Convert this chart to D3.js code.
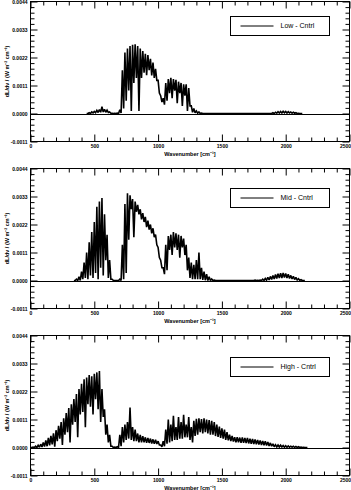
<!DOCTYPE html>
<html><head><meta charset="utf-8">
<script src="https://cdn.jsdelivr.net/npm/d3@7"></script>
<style>body{margin:0;background:#fff}svg{display:block}text{font-family:"Liberation Sans",Arial,sans-serif;fill:#000}</style>
</head><body>
<script>
// values in units of 1e-4 W m^-2 cm^-1
const yTickValues = [-11, 0, 11, 22, 33, 44];
const yTickLabels = ["-0.0011", "0.0000", "0.0011", "0.0022", "0.0033", "0.0044"];
const xTickValues = [0, 500, 1000, 1500, 2000, 2500];
const xTickLabels = ["0", "500", "1000", "1500", "2000", "2500"];
const legendLabels = ["Low - Cntrl", "Mid - Cntrl", "High - Cntrl"];
const xTitle = "Wavenumber [cm\u207B\u00B9]";
const yTitle = "dL/d\u03BD / (W m\u207B\u00B2 cm\u207B\u00B9)";

// Low - Cntrl : upper / lower envelope of the spiky spectrum
const lowWn = d3.range(440, 2121, 20);
const lowHi = [
  0,0.3,0.6,0.8,1.2,1.5,2.7,1.6,1.3,0.6,
  0.1,0.1,0.2,1.5,17,24,25.5,26.5,27,27.2,
  26.5,25.5,24.5,23.5,23,21.5,20,17.5,13,7,
  6,12,13.5,14,13.5,13.2,12.5,12,11.5,11.5,
  10,3,2,1,0.6,0.2,0,0,0,0,
  0,0,0,0,0,0,0,0,0,0,
  0,0,0,0,0,0,0,0,0,0,
  0,0,0,0.3,0.5,0.7,0.8,0.9,0.8,0.7,
  0.6,0.5,0.3,0.1,0];
const lowLo = [
  0,0,0.2,0.3,0.4,0.5,0.6,0.5,0.4,0.1,
  0,0,0,0.2,2,5,9,1,12,14,
  1,14,16,15,17,15,14,13,8,4.5,
  3.5,5,8,6,9,4,8,3,7,1,
  3,0.5,0.3,0.1,0,0,0,0,0,0,
  0,0,0,0,0,0,0,0,0,0,
  0,0,0,0,0,0,0,0,0,0,
  0,0,0,0,0.1,0.2,0.2,0.3,0.2,0.2,
  0.1,0.1,0,0,0];

// Mid - Cntrl
const midWn = d3.range(340, 2141, 20);
const midHi = [
  0,0.5,1.5,3.5,7,11,15,19,23,29,
  31,32.4,26,18,8,0.5,0,0,0.5,14,
  30,34.3,33.5,32,31,29.7,28,26.5,25,23.5,
  22,20.5,18,13,8,5,14,17.5,18,19,
  18.5,18,17.5,16.5,14,9,7,6.2,8,11,
  5,3.5,2.5,1.5,0.6,0.2,0,0,0,0,
  0,0,0,0,0,0,0,0,0,0,
  0,0.2,0.1,0.2,0.5,0.8,1.2,1.6,2.0,2.4,
  2.7,2.9,3.0,2.8,2.5,2.0,1.6,1.2,0.7,0.3,
  0];
const midLo = [
  0,0,0,0.5,1,0.5,2,1,3,0.5,
  5,2,8,1,0.5,0,0,0,0,0.5,
  3,16,28,17,27,26,24,23,21,20,
  18.5,17,14,9,5,2.5,4,12,10,13,
  12,9,13,10,4,1,0.5,0.5,0.5,0.5,
  0.2,0.1,0,0,0,0,0,0,0,0,
  0,0,0,0,0,0,0,0,0,0,
  0,0,0,0,0,0.1,0.2,0.4,0.6,0.8,
  1.0,1.0,1.2,1.0,0.8,0.6,0.4,0.2,0.1,0,
  0];

// High - Cntrl
const highWn = d3.range(0, 2161, 20);
const highHi = [
  0,0.2,0.5,0.9,1.3,2,2.8,3.8,4.6,5.6,
  6.8,8.5,10,11.5,13.5,15.5,17,19,21,23,
  25,26.8,27.5,28.5,28,29,29.5,30,23,15,
  9,5,0.5,0.2,0.3,5,8,9,10,15.7,
  8,7,5.5,5,4.5,4,3.8,3.5,3.2,3,
  2.5,1,2.5,7,11,9,12.5,8,12,10,
  12.8,9,12,8,10.5,11.3,11.5,11.2,11.5,11,
  10.8,10.5,10,9,8.2,7.5,7,6,5,4.5,
  4,4,3.9,4,3.8,3.8,3.5,3.4,3.2,3,
  2.8,2.6,2.5,2.2,1.8,1.4,1.1,1.0,0.9,0.8,
  0.7,0.6,0.5,0.5,0.4,0.3,0.2,0.1,0];
const highLo = [
  0,0,0,0.1,0.2,0.4,0.5,0.8,1.2,0.3,
  2.5,3.5,1,5,6,2,9,10,4,13,
  14,8,17,16,13,19,15,10,12,5,
  2,0.5,0,0,0,0.5,2,3,3.5,3,
  2.5,2.5,2,2,2,1.8,1.8,1.6,1.5,1.4,
  1,0.3,0.5,1.5,2,2.5,3,3,3.5,3.5,
  4,4,3,2,4.5,5,6,5.5,6,5.5,
  5,5,4.5,4.2,3.8,3.5,3,2.8,2.5,2.3,
  2,2,1.8,1.8,1.7,1.6,1.5,1.4,1.3,1.2,
  1.0,0.9,0.8,0.6,0.5,0.3,0.2,0.2,0.2,0.1,
  0.1,0.1,0.1,0,0,0,0,0,0];

const W = 351, H = 490;
const svg = d3.select("body").append("svg").attr("width", W).attr("height", H);
const x = d3.scaleLinear().domain([0, 2500]).range([30.5, 349.5]);
const xMinor = d3.range(0, 2501, 100).filter(v => !xTickValues.includes(v));
const yMinor = d3.range(0, 26).map(k => -11 + k * 2.2).filter(v => !yTickValues.some(t => Math.abs(t - v) < 1e-6));

const panels = [
  {wn: lowWn, hi: lowHi, lo: lowLo, label: legendLabels[0], top: 1.5, legY: 16},
  {wn: midWn, hi: midHi, lo: midLo, label: legendLabels[1], top: 168.5, legY: 188},
  {wn: highWn, hi: highHi, lo: highLo, label: legendLabels[2], top: 335.5, legY: 357}
];
const PH = 140;

panels.forEach(p => {
  const y = d3.scaleLinear().domain([-11, 44]).range([p.top + PH, p.top]);
  const g = svg.append("g");
  const pts = [];
  p.wn.forEach((w, i) => { pts.push([w, p.hi[i]]); pts.push([w + 10, p.lo[i]]); });
  g.append("line").attr("x1", x(0)).attr("x2", x(2500)).attr("y1", Math.round(y(0)) + 0.5).attr("y2", Math.round(y(0)) + 0.5)
    .attr("stroke", "#000").attr("stroke-width", 1.2);
  g.append("path").datum(pts)
    .attr("d", d3.line().x(d => x(d[0])).y(d => y(d[1])))
    .attr("fill", "none").attr("stroke", "#000").attr("stroke-width", 1.6).attr("stroke-linejoin", "miter").attr("stroke-miterlimit", 2);

  const fmtX = d => xTickLabels[xTickValues.indexOf(d)];
  const fmtY = d => yTickLabels[yTickValues.indexOf(d)];
  const bot = p.top + PH;
  // bottom
  g.append("g").attr("transform", `translate(0,${bot})`)
    .call(d3.axisBottom(x).tickValues(xTickValues).tickSize(-7).tickPadding(3).tickFormat(fmtX))
    .call(a => a.select(".domain").remove())
    .call(a => a.selectAll("text").attr("font-size", 5).attr("font-weight", "bold").attr("font-family", "Liberation Sans"))
    .call(a => a.selectAll(".tick text").filter(d => d === 2500).attr("text-anchor", "end").attr("x", 1));
  g.append("g").attr("transform", `translate(0,${bot})`)
    .call(d3.axisBottom(x).tickValues(xMinor).tickSize(-4).tickFormat(""))
    .call(a => a.select(".domain").remove());
  // top
  g.append("g").attr("transform", `translate(0,${p.top})`)
    .call(d3.axisTop(x).tickValues(xTickValues).tickSize(-7).tickFormat(""))
    .call(a => a.select(".domain").remove());
  g.append("g").attr("transform", `translate(0,${p.top})`)
    .call(d3.axisTop(x).tickValues(xMinor).tickSize(-4).tickFormat(""))
    .call(a => a.select(".domain").remove());
  // left
  g.append("g").attr("transform", `translate(${x(0)},0)`)
    .call(d3.axisLeft(y).tickValues(yTickValues).tickSize(-7).tickPadding(3).tickFormat(fmtY))
    .call(a => a.select(".domain").remove())
    .call(a => a.selectAll("text").attr("font-size", 5).attr("font-weight", "bold").attr("font-family", "Liberation Sans"));
  g.append("g").attr("transform", `translate(${x(0)},0)`)
    .call(d3.axisLeft(y).tickValues(yMinor).tickSize(-4).tickFormat(""))
    .call(a => a.select(".domain").remove());
  // right
  g.append("g").attr("transform", `translate(${x(2500)},0)`)
    .call(d3.axisRight(y).tickValues(yTickValues).tickSize(-7).tickFormat(""))
    .call(a => a.select(".domain").remove());
  g.append("g").attr("transform", `translate(${x(2500)},0)`)
    .call(d3.axisRight(y).tickValues(yMinor).tickSize(-4).tickFormat(""))
    .call(a => a.select(".domain").remove());
  // frame
  g.append("rect").attr("x", x(0)).attr("y", p.top).attr("width", x(2500) - x(0)).attr("height", PH)
    .attr("fill", "none").attr("stroke", "#000").attr("stroke-width", 1);

  // titles
  g.append("text").attr("x", (x(0) + x(2500)) / 2).attr("y", bot + 14)
    .attr("text-anchor", "middle").attr("font-size", 5.5).attr("font-weight", "bold").text(xTitle);
  g.append("text").attr("transform", `translate(9,${p.top + PH / 2}) rotate(-90)`)
    .attr("text-anchor", "middle").attr("font-size", 5.5).attr("font-weight", "bold").text(yTitle);

  // legend
  const lg = g.append("g").attr("transform", `translate(230.5,${p.legY + 0.5})`);
  lg.append("rect").attr("width", 99).attr("height", 19).attr("fill", "#fff").attr("stroke", "#000").attr("stroke-width", 1);
  lg.append("line").attr("x1", 10).attr("x2", 43).attr("y1", 9.5).attr("y2", 9.5).attr("stroke", "#000").attr("stroke-width", 1);
  lg.append("text").attr("x", 50).attr("y", 9.5).attr("dy", "0.35em").attr("font-size", 7).text(p.label);
});
</script>
</body></html>
